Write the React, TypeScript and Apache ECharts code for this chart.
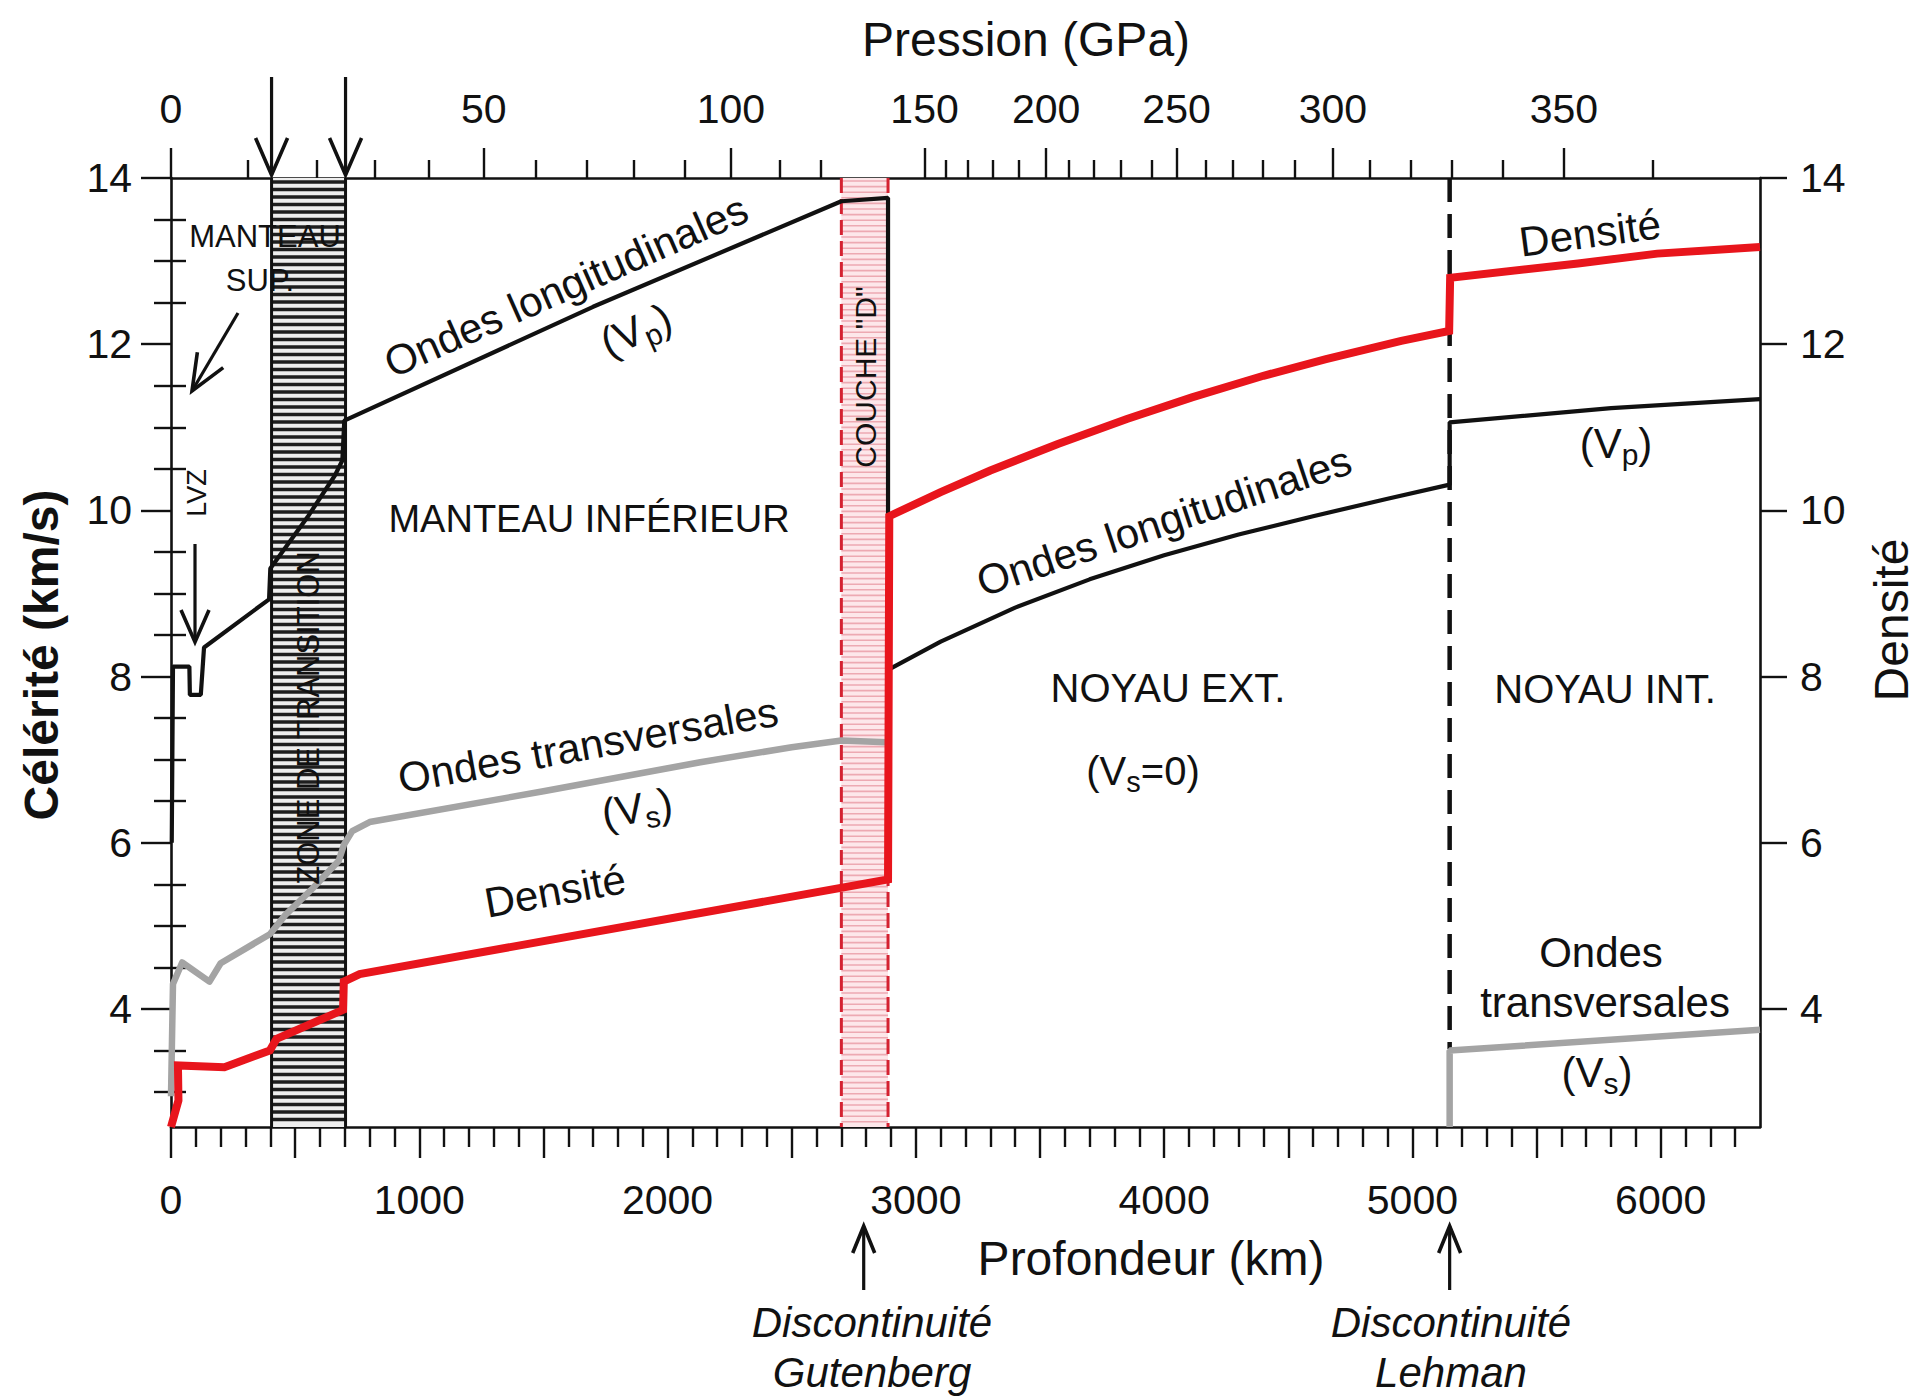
import React, { useEffect, useRef } from "react";
import * as echarts from "echarts";

// ---------------- axes ----------------
const FONT = "Liberation Sans";
const INK = "#111111";
const DEPTH_MIN = 0;
const DEPTH_MAX = 6400;
const VEL_MIN = 2.58;
const VEL_MAX = 14;

const depthMajorTicks = [0, 500, 1000, 1500, 2000, 2500, 3000, 3500, 4000, 4500, 5000, 5500, 6000];
const depthLabelValues = [0, 1000, 2000, 3000, 4000, 5000, 6000];
const depthMinorTicks = [
  100, 200, 300, 400, 600, 700, 800, 900, 1100, 1200, 1300, 1400, 1600, 1700, 1800, 1900,
  2100, 2200, 2300, 2400, 2600, 2700, 2800, 2900, 3100, 3200, 3300, 3400, 3600, 3700, 3800, 3900,
  4100, 4200, 4300, 4400, 4600, 4700, 4800, 4900, 5100, 5200, 5300, 5400, 5600, 5700, 5800, 5900,
  6100, 6200, 6300,
];

const velMajorTicks = [4, 6, 8, 10, 12, 14];
const velMinorTicks = [3, 3.5, 4.5, 5, 5.5, 6.5, 7, 7.5, 8.5, 9, 9.5, 10.5, 11, 11.5, 12.5, 13, 13.5];

// pressure (top axis) : GPa labels and the depth (km) where they sit
const pressureMajorGPa = [0, 50, 100, 150, 200, 250, 300, 350];
const pressureMajorDepth = [0, 1260, 2255, 3035, 3525, 4050, 4680, 5610];
const pressureMinorDepth = [
  309, 587, 821, 1039, 1470, 1676, 1865, 2071, 2450, 2616, 3120, 3209, 3308, 3413, 3616, 3717,
  3826, 3950, 4168, 4275, 4398, 4527, 4830, 4995, 5160, 5362, 5967,
];

// ---------------- data (depth km, value) ----------------
const vpProfile = [
  [3, 6.0], [8, 8.12], [74, 8.12], [76, 7.78], [120, 7.78], [133, 8.35], [395, 8.93], [400, 9.3],
  [550, 9.92], [660, 10.42], [690, 10.6], [698, 11.08], [1700, 12.45], [2700, 13.72], [2888, 13.76],
  [2888, 8.08], [3100, 8.42], [3400, 8.83], [3700, 9.17], [4000, 9.46], [4300, 9.71], [4600, 9.93],
  [4900, 10.14], [5150, 10.31], [5150, 11.06], [5800, 11.23], [6400, 11.34],
];
const vsMantle = [
  [0, 2.95], [8, 4.3], [45, 4.56], [155, 4.33], [200, 4.55], [398, 4.9], [460, 5.13], [570, 5.45],
  [675, 5.78], [697, 5.98], [730, 6.14], [800, 6.25], [1500, 6.62], [2132, 6.97], [2500, 7.15],
  [2700, 7.23], [2880, 7.21],
];
const vsInnerCore = [[5150, 2.58], [5150, 3.5], [6400, 3.75]];
const densityProfile = [
  [0, 2.58], [30, 2.9], [28, 3.32], [215, 3.3], [398, 3.5], [425, 3.64], [693, 3.99], [696, 4.33],
  [760, 4.42], [2888, 5.56], [2893, 9.93], [3100, 10.22], [3300, 10.48], [3572, 10.8], [3850, 11.1],
  [4112, 11.36], [4400, 11.62], [4652, 11.82], [4955, 12.04], [5148, 12.16], [5152, 12.8],
  [5667, 12.97], [5986, 13.09], [6400, 13.17],
];
const icbLine = [[5150, 14], [5150, 3.52]];

// shaded zones: transition zone and D" layer
const bandStart = [405, 2700];
const bandEnd = [703, 2888];
const bandKind = [0, 1];

// arrows (depth km, 0 = top, 1 = bottom)
const arrowDepths = [405, 703, 2790, 5150];
const arrowSide = [0, 0, 1, 1];

// ---------------- helpers ----------------
function head(tail: number[], tip: number[], L: number, W: number) {
  const dx = tip[0] - tail[0];
  const dy = tip[1] - tail[1];
  const len = Math.hypot(dx, dy);
  const ux = dx / len, uy = dy / len;
  const nx = -uy, ny = ux;
  const bx = tip[0] - ux * L, by = tip[1] - uy * L;
  return [[bx + nx * W, by + ny * W], [tip[0], tip[1]], [bx - nx * W, by - ny * W]];
}

function arrowGraphic(tail: number[], tip: number[], L: number, W: number) {
  return [
    { type: "line", z: 100, shape: { x1: tail[0], y1: tail[1], x2: tip[0], y2: tip[1] }, style: { stroke: INK, lineWidth: 3.2 } },
    { type: "polyline", z: 100, shape: { points: head(tail, tip, L, W) }, style: { stroke: INK, lineWidth: 3.6, fill: "none", lineJoin: "miter" } },
  ];
}

const subRich = (size: number) => ({
  n: { fontSize: size, fontFamily: FONT, fill: INK },
  s: { fontSize: Math.round(size * 0.72), fontFamily: FONT, fill: INK, padding: [Math.round(size * 0.55), 0, 0, 0] },
});

function txt(text: string, x: number, y: number, size: number, opts: any = {}) {
  return {
    type: "text",
    x,
    y,
    z: 100,
    rotation: ((opts.rot || 0) * Math.PI) / 180,
    style: {
      text,
      fontSize: size,
      fontFamily: FONT,
      fontWeight: opts.bold ? "bold" : "normal",
      fontStyle: opts.italic ? "italic" : "normal",
      fill: INK,
      align: "center",
      verticalAlign: "middle",
      rich: opts.rich,
    },
  };
}

const axisLine = { show: true, onZero: false, lineStyle: { color: INK, width: 2.6 } };
const tickLine = { color: INK, width: 2.4 };
const labelStyle = { fontFamily: FONT, fontSize: 41, color: INK };

function buildOption(): any {
  const xBase = { type: "value", min: DEPTH_MIN, max: DEPTH_MAX, splitLine: { show: false } };
  const yBase = { type: "value", min: VEL_MIN, max: VEL_MAX, splitLine: { show: false } };
  const findP = (v: number) => {
    let best = 0;
    pressureMajorDepth.forEach((d, i) => {
      if (Math.abs(d - v) < Math.abs(pressureMajorDepth[best] - v)) best = i;
    });
    return String(pressureMajorGPa[best]);
  };

  const graphic: any[] = [
    txt("Pression (GPa)", 1026, 39, 48),
    txt("Profondeur (km)", 1151, 1258, 48),
    txt("Célérité (km/s)", 41, 655, 48, { bold: true, rot: 90 }),
    txt("Densité", 1891, 620, 48, { rot: 90 }),
    txt("MANTEAU", 265, 236, 31),
    txt("SUP.", 260, 280, 31),
    txt("LVZ", 197, 493, 27, { rot: 90 }),
    txt("ZONE DE TRANSITION", 308, 718, 31, { rot: 90 }),
    txt('COUCHE "D"', 865, 377, 30, { rot: 90 }),
    txt("MANTEAU INFÉRIEUR", 589, 519, 38),
    txt("Ondes longitudinales", 566, 286, 42, { rot: 23.8 }),
    txt("{n|(V}{s|p}{n|)}", 636, 330, 42, { rot: 23.8, rich: subRich(42) }),
    txt("Ondes transversales", 588, 745, 42, { rot: 10.2 }),
    txt("{n|(V}{s|s}{n|)}", 637, 808, 42, { rot: 10, rich: subRich(42) }),
    txt("Densité", 555, 891, 42, { rot: 10.2 }),
    txt("Ondes longitudinales", 1164, 521, 42, { rot: 18.5 }),
    txt("NOYAU EXT.", 1168, 688, 40),
    txt("{n|(V}{s|s}{n|=0)}", 1143, 771, 40, { rich: subRich(40) }),
    txt("{n|(V}{s|p}{n|)}", 1616, 443, 42, { rich: subRich(42) }),
    txt("Densité", 1590, 233, 42, { rot: 7.5 }),
    txt("NOYAU INT.", 1605, 689, 40),
    txt("Ondes", 1601, 952, 42),
    txt("transversales", 1605, 1002, 42),
    txt("{n|(V}{s|s}{n|)}", 1597, 1072, 42, { rich: subRich(42) }),
    txt("Discontinuité", 872, 1322, 42, { italic: true }),
    txt("Gutenberg", 872, 1372, 42, { italic: true }),
    txt("Discontinuité", 1451, 1322, 42, { italic: true }),
    txt("Lehman", 1451, 1372, 42, { italic: true }),
    ...arrowGraphic([238, 313], [192, 391], 36, 15),
    ...arrowGraphic([195, 544], [195, 642], 32, 14),
  ];

  return {
    animation: false,
    backgroundColor: "#ffffff",
    textStyle: { fontFamily: FONT },
    grid: { left: 171, right: 160, top: 178, bottom: 273, containLabel: false },
    xAxis: [
      {
        ...xBase,
        position: "bottom",
        axisLine,
        axisTick: { show: true, customValues: depthMajorTicks, length: 31, lineStyle: tickLine },
        axisLabel: { show: true, customValues: depthLabelValues, margin: 52, formatter: (v: number) => String(v), ...labelStyle },
      },
      {
        ...xBase,
        position: "bottom",
        axisLine: { show: false },
        axisTick: { show: true, customValues: depthMinorTicks, length: 20, lineStyle: tickLine },
        axisLabel: { show: false },
      },
      {
        ...xBase,
        position: "top",
        axisLine,
        axisTick: { show: true, customValues: pressureMajorDepth, length: 30, lineStyle: tickLine },
        axisLabel: { show: true, customValues: pressureMajorDepth, margin: 49, formatter: (v: number) => findP(v), ...labelStyle },
      },
      {
        ...xBase,
        position: "top",
        axisLine: { show: false },
        axisTick: { show: true, customValues: pressureMinorDepth, length: 18, lineStyle: tickLine },
        axisLabel: { show: false },
      },
    ],
    yAxis: [
      {
        ...yBase,
        position: "left",
        axisLine,
        axisTick: { show: true, customValues: velMajorTicks, length: 30, lineStyle: tickLine },
        axisLabel: { show: true, customValues: velMajorTicks, margin: 39, formatter: (v: number) => String(v), ...labelStyle },
      },
      {
        ...yBase,
        position: "left",
        axisLine: { show: false },
        axisTick: { show: true, customValues: velMinorTicks, length: 17, lineStyle: tickLine },
        axisLabel: { show: false },
      },
      {
        ...yBase,
        position: "right",
        axisLine,
        axisTick: { show: true, customValues: velMajorTicks, length: 27, lineStyle: tickLine },
        axisLabel: { show: true, customValues: velMajorTicks, margin: 40, formatter: (v: number) => String(v), ...labelStyle },
      },
      {
        ...yBase,
        position: "right",
        axisLine: { show: false },
        axisTick: { show: true, customValues: velMinorTicks, length: 15, lineStyle: tickLine },
        axisLabel: { show: false },
      },
    ],
    series: [
      {
        type: "custom",
        name: "zones",
        z: 1,
        clip: true,
        encode: { x: [0, 1], y: 2 },
        data: bandStart.map((s, i) => [s, bandEnd[i], bandKind[i]]),
        renderItem: (params: any, api: any) => {
          const s = api.value(0), e = api.value(1), k = api.value(2);
          const a = api.coord([s, VEL_MAX]);
          const b = api.coord([e, VEL_MIN]);
          const x0 = a[0], y0 = a[1], x1 = b[0], y1 = b[1];
          const children: any[] = [];
          if (k === 0) {
            children.push({ type: "rect", shape: { x: x0, y: y0, width: x1 - x0, height: y1 - y0 }, style: { fill: "#eeeeee" } });
            for (let y = y0 + 4; y < y1 - 1; y += 7.5) {
              children.push({ type: "line", shape: { x1: x0, y1: y, x2: x1, y2: y }, style: { stroke: "#1e1e1e", lineWidth: 3.6 } });
            }
            children.push({ type: "line", shape: { x1: x0, y1: y0, x2: x0, y2: y1 }, style: { stroke: INK, lineWidth: 3 } });
            children.push({ type: "line", shape: { x1: x1, y1: y0, x2: x1, y2: y1 }, style: { stroke: INK, lineWidth: 3 } });
          } else {
            children.push({ type: "rect", shape: { x: x0, y: y0, width: x1 - x0, height: y1 - y0 }, style: { fill: "#fde7ea" } });
            for (let y = y0 + 3; y < y1 - 1; y += 5.6) {
              children.push({ type: "line", shape: { x1: x0, y1: y, x2: x1, y2: y }, style: { stroke: "#eda9b2", lineWidth: 1.6 } });
            }
            children.push({ type: "line", shape: { x1: x0, y1: y0, x2: x0, y2: y1 }, style: { stroke: "#d42231", lineWidth: 3, lineDash: [15, 6] } });
            children.push({ type: "line", shape: { x1: x1, y1: y0, x2: x1, y2: y1 }, style: { stroke: "#d42231", lineWidth: 3, lineDash: [15, 6] } });
          }
          return { type: "group", children };
        },
      },
      {
        type: "line",
        name: "ICB",
        z: 2,
        data: icbLine,
        symbol: "none",
        lineStyle: { color: INK, width: 4.5, type: [24, 12] },
      },
      {
        type: "line",
        name: "Vs manteau",
        z: 3,
        data: vsMantle,
        symbol: "none",
        lineStyle: { color: "#a4a4a4", width: 6.5, join: "round" },
      },
      {
        type: "line",
        name: "Vs graine",
        z: 3,
        data: vsInnerCore,
        symbol: "none",
        lineStyle: { color: "#a4a4a4", width: 6.5 },
      },
      {
        type: "line",
        name: "Vp",
        z: 4,
        data: vpProfile,
        symbol: "none",
        lineStyle: { color: INK, width: 4.2 },
      },
      {
        type: "line",
        name: "Densité",
        z: 5,
        data: densityProfile,
        symbol: "none",
        lineStyle: { color: "#e8151c", width: 8, join: "miter" },
      },
      {
        type: "custom",
        name: "arrows",
        z: 6,
        clip: false,
        encode: { x: 0, y: 1 },
        data: arrowDepths.map((d, i) => [d, arrowSide[i]]),
        renderItem: (params: any, api: any) => {
          const d = api.value(0), k = api.value(1);
          const x = api.coord([d, VEL_MAX])[0];
          const cfg = k === 0 ? [77, 175, 37, 16] : [1290, 1226, 27, 11];
          const tail = [x, cfg[0]], tip = [x, cfg[1]];
          return {
            type: "group",
            children: [
              { type: "line", shape: { x1: x, y1: cfg[0], x2: x, y2: cfg[1] }, style: { stroke: INK, lineWidth: 3.2 } },
              { type: "polyline", shape: { points: head(tail, tip, cfg[2], cfg[3]) }, style: { stroke: INK, lineWidth: 3.6, fill: "none" } },
            ],
          };
        },
      },
    ],
    graphic,
  };
}

export default function App() {
  const ref = useRef<HTMLDivElement>(null);
  useEffect(() => {
    document.body.style.margin = "0";
    const chart = echarts.init(ref.current as HTMLDivElement, null, { renderer: "svg" });
    chart.setOption(buildOption());
    return () => chart.dispose();
  }, []);
  return <div ref={ref} style={{ width: 1920, height: 1400, background: "#ffffff" }} />;
}
